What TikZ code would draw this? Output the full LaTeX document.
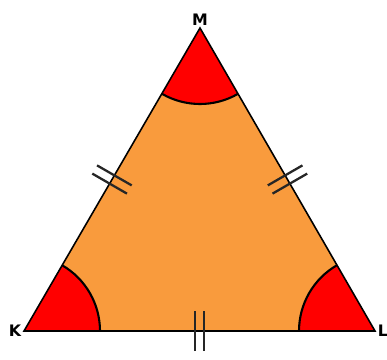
\documentclass[tikz,border=0pt]{standalone}
\usepackage{fontspec}
\setsansfont{DejaVu Sans}
\usetikzlibrary{calc}
\definecolor{triorange}{RGB}{249,155,61}
\definecolor{anglered}{RGB}{255,0,0}
\tikzset{
    vertexlabel/.style = {font = \sffamily\bfseries\small, inner sep = 1.5pt},
    tickmark/.style = {line width = 1.3pt, black!85}
}
\begin{document}
\begin{tikzpicture}
        \useasboundingbox (0, 0) rectangle (7.74, 7.18);
        \def\arcr{1.52}
        \coordinate (K) at (0.48, 0.56);
        \coordinate (L) at (7.50, 0.56);
        \coordinate (M) at (4.00, 6.62);
        \fill[triorange] (K) -- (L) -- (M) -- cycle;
        % angle sectors
        \foreach \v/\sa/\ea in {K/0/60, L/120/180, M/240/300}{
            \fill[anglered] (\v) -- ++(\sa:\arcr) arc[start angle = \sa, end angle = \ea, radius = \arcr] -- cycle;
            \draw[line width = 1.2pt] (\v) ++(\sa:\arcr) arc[start angle = \sa, end angle = \ea, radius = \arcr];
        }
        \draw[line width = 0.9pt] (K) -- (L) -- (M) -- cycle;
        % equal sides
        \foreach \a/\b/\ang in {K/L/0, K/M/60, M/L/-60}{
            \coordinate (mid) at ($(\a)!0.5!(\b)$);
            \begin{scope}[shift = {(mid)}, rotate = \ang]
                \draw[tickmark] (-0.095, -0.4) -- (-0.095, 0.4);
                \draw[tickmark] (0.095, -0.4) -- (0.095, 0.4);
            \end{scope}
        }
        \node[vertexlabel, anchor = east] (labK) at (K) {K};
        \node[vertexlabel, anchor = west] (labL) at (L) {L};
        \node[vertexlabel, anchor = south] (labM) at (M) {M};
    \end{tikzpicture}
\end{document}
